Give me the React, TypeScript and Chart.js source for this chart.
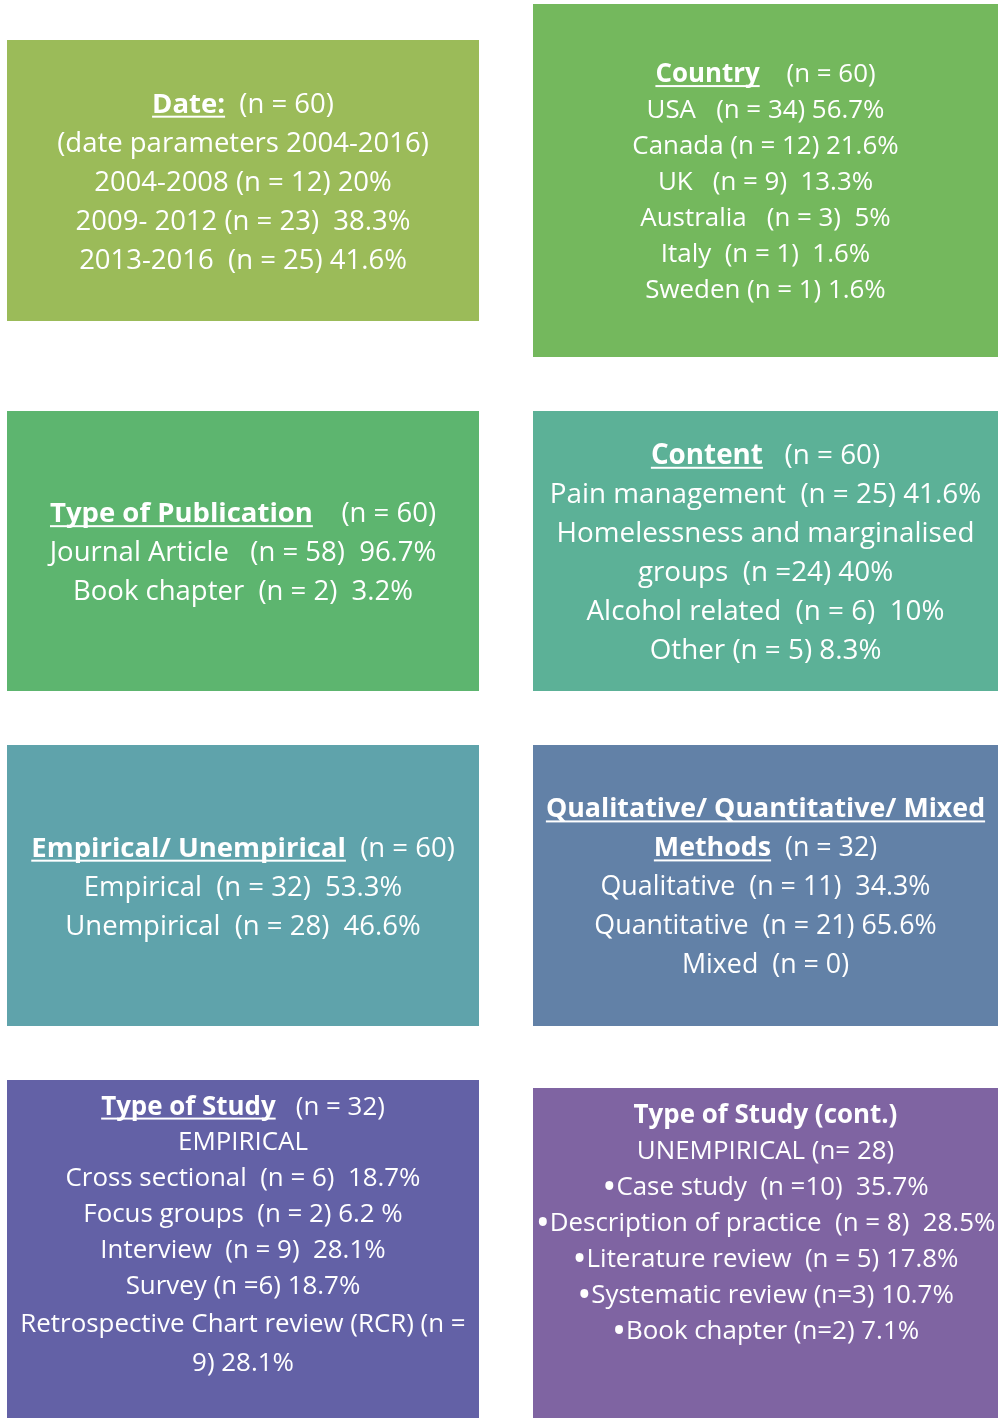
import React, { useEffect, useRef } from "react";
import { Chart, registerables } from "chart.js";

Chart.register(...registerables);

const PAGE_W = 998;
const PAGE_H = 1418;

// Panel fills
const boxColors = ["#9BBB59", "#74B85D", "#5DB56F", "#5CB197", "#5FA3AB", "#6281A7", "#6361A6", "#7F64A2"];
// Panel extents in scale units
const boxLeft = [7, 533, 7, 533, 7, 533, 7, 533];
const boxRight = [479, 998, 479, 998, 479, 998, 479, 998];
const boxTop = [40, 4, 411, 411, 745, 745, 1080, 1088];
const boxBottom = [321, 357, 691, 691, 1026, 1026, 1418, 1418];

// Panel texts ("__x__" = bold underlined, "**x**" = bold)
const dateLines = [
  "__Date:__  (n = 60)",
  "(date parameters 2004-2016)",
  "2004-2008 (n = 12) 20%",
  "2009- 2012 (n = 23)  38.3%",
  "2013-2016  (n = 25) 41.6%",
];
const countryLines = [
  "__Country__    (n = 60)",
  "USA   (n = 34) 56.7%",
  "Canada (n = 12) 21.6%",
  "UK   (n = 9)  13.3%",
  "Australia   (n = 3)  5%",
  "Italy  (n = 1)  1.6%",
  "Sweden (n = 1) 1.6%",
];
const publicationLines = [
  "__Type of Publication__    (n = 60)",
  "Journal Article   (n = 58)  96.7%",
  "Book chapter  (n = 2)  3.2%",
];
const contentLines = [
  "__Content__   (n = 60)",
  "Pain management  (n = 25) 41.6%",
  "Homelessness and marginalised",
  "groups  (n =24) 40%",
  "Alcohol related  (n = 6)  10%",
  "Other (n = 5) 8.3%",
];
const empiricalLines = [
  "__Empirical/ Unempirical__  (n = 60)",
  "Empirical  (n = 32)  53.3%",
  "Unempirical  (n = 28)  46.6%",
];
const methodsLines = [
  "__Qualitative/ Quantitative/ Mixed__",
  "__Methods__  (n = 32)",
  "Qualitative  (n = 11)  34.3%",
  "Quantitative  (n = 21) 65.6%",
  "Mixed  (n = 0)",
];
const studyLines = [
  "__Type of Study__   (n = 32)",
  "EMPIRICAL",
  "Cross sectional  (n = 6)  18.7%",
  "Focus groups  (n = 2) 6.2 %",
  "Interview  (n = 9)  28.1%",
  "Survey (n =6) 18.7%",
  "Retrospective Chart review (RCR) (n =",
  "9) 28.1%",
];
const studyContLines = [
  "**Type of Study (cont.)**",
  "UNEMPIRICAL (n= 28)",
  "\u2022Case study  (n =10)  35.7%",
  "\u2022Description of practice  (n = 8)  28.5%",
  "\u2022Literature review  (n = 5) 17.8%",
  "\u2022Systematic review (n=3) 10.7%",
  "\u2022Book chapter (n=2) 7.1%",
];
const boxLines = [dateLines, countryLines, publicationLines, contentLines, empiricalLines, methodsLines, studyLines, studyContLines];

// Typography per panel
const boxFontSize = [27.5, 25.9, 27.5, 27.8, 27.5, 26.8, 25.9, 25.9];
const boxLineStep = [39, 36, 39, 39, 39, 39, 35.8, 36];
const boxAnchor = ["center", "center", "center", "center", "center", "center", "top", "top"];
const wideStepFrom = [-1, -1, -1, -1, -1, -1, 6, -1];
const FONT = '"Open Sans", "DejaVu Sans", sans-serif';

type Seg = { text: string; bold: boolean; underline: boolean; bullet: boolean };

function parseLine(line: string): Seg[] {
  const segs: Seg[] = [];
  let rest = line;
  if (rest.startsWith("\u2022")) {
    segs.push({ text: "\u2022", bold: false, underline: false, bullet: true });
    rest = rest.slice(1);
  }
  const re = /(__([^_]+)__|\*\*([^*]+)\*\*)/g;
  let last = 0;
  let m: RegExpExecArray | null;
  while ((m = re.exec(rest)) !== null) {
    if (m.index > last) segs.push({ text: rest.slice(last, m.index), bold: false, underline: false, bullet: false });
    if (m[2] !== undefined) segs.push({ text: m[2], bold: true, underline: true, bullet: false });
    else segs.push({ text: m[3], bold: true, underline: false, bullet: false });
    last = m.index + m[0].length;
  }
  if (last < rest.length) segs.push({ text: rest.slice(last), bold: false, underline: false, bullet: false });
  return segs;
}

const panelPlugin = {
  id: "panels",
  beforeDatasetsDraw(chart: any) {
    const ctx: CanvasRenderingContext2D = chart.ctx;
    const xs = chart.scales.x;
    const ys = chart.scales.y;
    ctx.save();
    for (let i = 0; i < boxColors.length; i++) {
      const l = xs.getPixelForValue(boxLeft[i]);
      const r = xs.getPixelForValue(boxRight[i]);
      const t = ys.getPixelForValue(boxTop[i]);
      const b = ys.getPixelForValue(boxBottom[i]);
      ctx.fillStyle = boxColors[i];
      ctx.fillRect(l, t, r - l, b - t);

      const lines = boxLines[i];
      const fs = boxFontSize[i];
      const step = boxLineStep[i];
      const cx = (l + r) / 2;
      const centers: number[] = [];
      let y = 0;
      for (let k = 0; k < lines.length; k++) {
        if (k > 0) y += wideStepFrom[i] >= 0 && k >= wideStepFrom[i] ? 38.5 : step;
        centers.push(y);
      }
      const span = centers[centers.length - 1];
      const y0 = boxAnchor[i] === "center" ? (t + b) / 2 - span / 2 : t + 25;

      ctx.save();
      ctx.beginPath();
      ctx.rect(l, t, r - l, b - t);
      ctx.clip();
      ctx.fillStyle = "#FFFFFF";
      ctx.textBaseline = "alphabetic";
      ctx.textAlign = "left";
      for (let k = 0; k < lines.length; k++) {
        const segs = parseLine(lines[k]);
        const fontOf = (s: Seg) => `${s.bold ? "bold " : ""}${s.bullet ? fs * 1.45 : fs}px ${FONT}`;
        const widths = segs.map((s) => {
          ctx.font = fontOf(s);
          return ctx.measureText(s.text).width;
        });
        const total = widths.reduce((a, w) => a + w, 0);
        let x = cx - total / 2;
        const base = y0 + centers[k] + fs * 0.37;
        segs.forEach((s, j) => {
          ctx.font = fontOf(s);
          ctx.fillText(s.text, x, s.bullet ? base + fs * 0.2 : base);
          if (s.underline) {
            ctx.fillRect(x, base + 3, widths[j], 2);
          }
          x += widths[j];
        });
      }
      ctx.restore();
    }
    ctx.restore();
  },
};

export default function App() {
  const canvasRef = useRef<HTMLCanvasElement | null>(null);

  useEffect(() => {
    let chart: Chart | null = null;
    let cancelled = false;
    const corners = boxLeft
      .map((x, i) => ({ x, y: boxTop[i] }))
      .concat(boxRight.map((x, i) => ({ x, y: boxBottom[i] })));
    const build = () => {
      if (cancelled || !canvasRef.current) return;
      chart = new Chart(canvasRef.current, {
        type: "scatter",
        data: {
          datasets: [
            {
              data: corners,
              pointRadius: 0,
              showLine: false,
            },
          ],
        },
        options: {
          animation: false,
          responsive: false,
          maintainAspectRatio: false,
          events: [],
          layout: { padding: 0 },
          plugins: {
            legend: { display: false },
            tooltip: { enabled: false },
          },
          scales: {
            x: { type: "linear", min: 0, max: PAGE_W, display: false },
            y: { type: "linear", min: 0, max: PAGE_H, reverse: true, display: false },
          },
        },
        plugins: [panelPlugin],
      });
    };
    const fontsAny: any = (document as any).fonts;
    if (fontsAny && fontsAny.load) {
      Promise.all([fontsAny.load(`27px "Open Sans"`), fontsAny.load(`bold 27px "Open Sans"`)])
        .catch(() => null)
        .then(build);
    } else {
      build();
    }
    return () => {
      cancelled = true;
      if (chart) chart.destroy();
    };
  }, []);

  return (
    <div style={{ position: "absolute", left: 0, top: 0, width: PAGE_W, height: PAGE_H, background: "#FFFFFF" }}>
      <canvas ref={canvasRef} width={PAGE_W} height={PAGE_H} style={{ display: "block", width: PAGE_W, height: PAGE_H }} />
    </div>
  );
}
